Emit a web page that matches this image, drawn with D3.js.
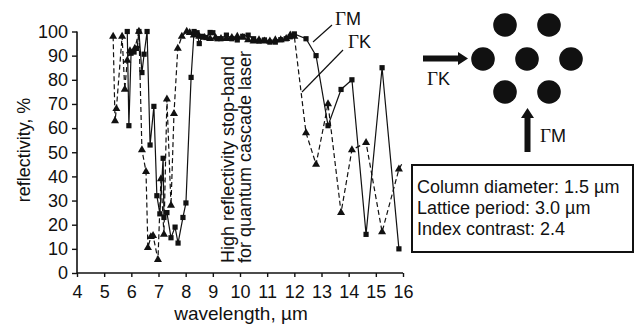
<!DOCTYPE html>
<html><head><meta charset="utf-8">
<script src="https://cdn.jsdelivr.net/npm/d3@7"></script>
<style>body{margin:0;background:#fff}svg{display:block}text{font-family:"Liberation Sans",Arial,sans-serif;fill:#111}</style>
</head><body>
<svg id="c" width="639" height="327"></svg>
<script>
// ΓM (squares, solid)
const gmX = [5.85,5.91,5.99,6.10,6.21,6.28,6.39,6.47,6.58,6.69,6.83,6.94,7.05,7.17,7.20,7.31,7.46,7.61,7.72,7.90,8.01,8.20,8.31,8.42,8.50,8.60,8.75,8.90,9.00,9.15,9.30,9.50,9.70,9.90,10.10,10.30,10.50,10.70,10.90,11.10,11.30,11.50,11.70,11.85,12.00,12.43,12.80,13.24,13.72,14.12,14.64,15.23,15.85];
const gmY = [100,61,91,91.5,93,100,83,90.6,100,53,69,32,24.5,47.5,23,25,14.6,19,12.4,23,29,81,100,99.5,95,98,97.5,99.6,99.5,97,97,98.5,97,96.5,98,98.5,97,96,96.5,95.6,95.6,96.6,97,97.8,99,97,90,61,76,80,16,85,10];
// ΓK (triangles, dashed)
const gkX = [5.33,5.40,5.45,5.66,5.76,5.85,5.95,6.13,6.28,6.39,6.54,6.61,6.72,6.80,6.98,7.09,7.20,7.31,7.46,7.57,7.71,7.86,8.04,8.15,8.30,8.50,8.70,8.90,9.10,9.30,9.50,9.70,9.90,10.10,10.30,10.50,10.70,10.90,11.10,11.30,11.50,11.70,11.85,12.00,12.43,12.80,13.24,13.72,14.12,14.64,15.23,15.85,16.00];
const gkY = [98,63,68,98,76,88,92,93,100,51,42,10.5,15,15.5,5.5,39,16,72,28,66,93,98,100,99.5,98.5,98,97.5,97,97.5,97,97,97.5,98,97.5,96.5,96,96.5,96,96,96.5,96.5,97,98.5,98,58,45,70,25,51,54,17,43,46];
const xTicks = d3.range(4,17,1);
const yTicks = d3.range(0,101,10);
const params = ["Column diameter: 1.5 \u00b5m","Lattice period: 3.0 \u00b5m","Index contrast: 2.4"];
const stopBand = ["High reflectivity stop-band","for quantum cascade laser"];

const svg = d3.select("#c");
const x = d3.scaleLinear().domain([4,16]).range([77,403]);
const y = d3.scaleLinear().domain([0,100]).range([273,31.5]);
const ink = "#111";

const gx = svg.append("g").attr("transform","translate(0,273)")
  .call(d3.axisBottom(x).tickValues(xTicks).tickSize(4).tickPadding(8).tickFormat(d3.format("d")));
const gy = svg.append("g").attr("transform","translate(77,0)")
  .call(d3.axisLeft(y).tickValues(yTicks).tickSize(5).tickPadding(4).tickFormat(d3.format("d")));
[gx,gy].forEach(g=>{
  g.select(".domain").attr("stroke",ink).attr("stroke-width",1.6);
  g.selectAll(".tick line").attr("stroke",ink).attr("stroke-width",1.4);
  g.selectAll(".tick text").attr("font-size",18).attr("font-family","Liberation Sans, Arial, sans-serif").attr("fill",ink);
});
gx.select(".domain").attr("d","M77,0H403");
gy.select(".domain").attr("d","M0,273V31.5");

svg.append("text").attr("transform","translate(30,150) rotate(-90)").attr("text-anchor","middle")
  .attr("font-size",18).text("reflectivity, %");
svg.append("text").attr("x",241).attr("y",320).attr("text-anchor","middle")
  .attr("font-size",19).text("wavelength, \u00b5m");

stopBand.forEach((t,i)=>{
  svg.append("text").attr("transform",`translate(${234+i*17},263) rotate(-90)`)
    .attr("font-size",18).text(t);
});

const gm = gmX.map((d,i)=>[d,gmY[i]]);
const gk = gkX.map((d,i)=>[d,gkY[i]]);
const line = d3.line().x(d=>x(d[0])).y(d=>y(d[1]));

svg.append("path").attr("d",line(gk)).attr("fill","none").attr("stroke",ink)
  .attr("stroke-width",1.2).attr("stroke-dasharray","5,3");
svg.append("path").attr("d",line(gm)).attr("fill","none").attr("stroke",ink).attr("stroke-width",1.2);

svg.append("g").selectAll("path").data(gk.filter(d=>d[0]<16)).join("path")
  .attr("d",d3.symbol(d3.symbolTriangle,28)).attr("fill",ink)
  .attr("transform",d=>`translate(${x(d[0])},${y(d[1])})`);
svg.append("g").selectAll("rect").data(gm).join("rect")
  .attr("x",d=>x(d[0])-2.6).attr("y",d=>y(d[1])-2.6).attr("width",5.2).attr("height",5.2).attr("fill",ink);

function gammaLabel(px,py,letter){
  const t = svg.append("text").attr("x",px).attr("y",py).attr("font-size",18);
  t.append("tspan").attr("font-family","Liberation Serif, Times New Roman, serif").attr("font-size",19).text("\u0393");
  t.append("tspan").text(letter);
}
// series labels
gammaLabel(335,25,"M");
svg.append("line").attr("x1",332).attr("y1",25).attr("x2",313).attr("y2",42).attr("stroke",ink).attr("stroke-width",1.2);
gammaLabel(348,48,"K");
svg.append("line").attr("x1",343).attr("y1",50).attr("x2",302).attr("y2",92).attr("stroke",ink).attr("stroke-width",1.2);

// lattice diagram
const lattice = [[505,25],[549,25],[483,59],[527,59],[571,59],[505,92],[549,92]];
svg.append("g").selectAll("circle").data(lattice).join("circle")
  .attr("cx",d=>d[0]).attr("cy",d=>d[1]).attr("r",11.8).attr("fill",ink);
// ΓK arrow
svg.append("path").attr("d","M423,55.5H458V52L468,58.5L458,65V61.5H423Z").attr("fill",ink);
gammaLabel(427,85,"K");
// ΓM arrow
svg.append("path").attr("d","M524.5,152V118H521L527.5,108L534,118H530.5V152Z").attr("fill",ink);
gammaLabel(540,142,"M");

svg.append("rect").attr("x",412).attr("y",165).attr("width",221).attr("height",87)
  .attr("fill","none").attr("stroke",ink).attr("stroke-width",2);
params.forEach((t,i)=>{
  svg.append("text").attr("x",417).attr("y",193+i*21).attr("font-size",18).text(t);
});
</script>
</body></html>
